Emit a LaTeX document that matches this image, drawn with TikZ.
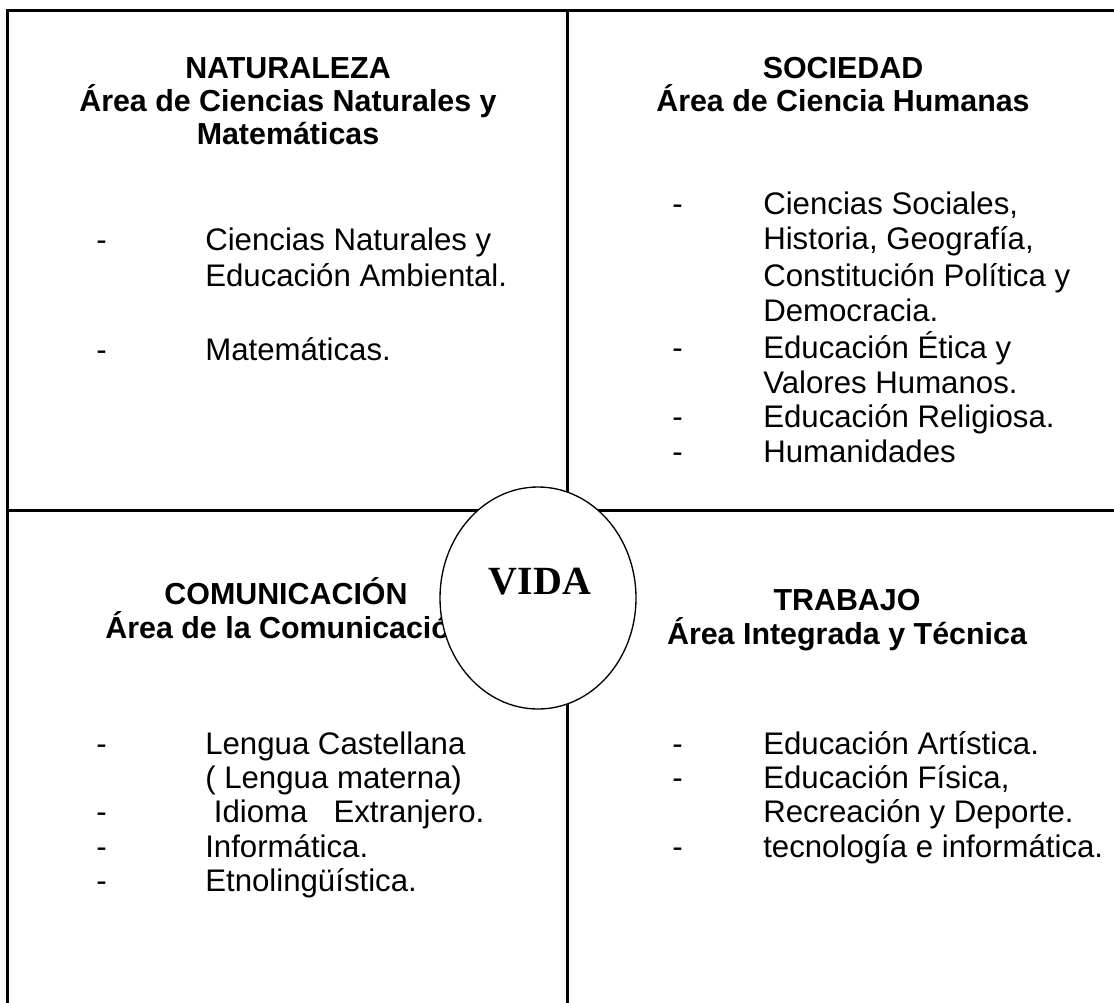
\documentclass[tikz,border=0pt]{standalone}
\usepackage{fontspec}
\setmainfont{Liberation Sans}
\newfontfamily\vidafont{Liberation Serif}
\usepackage{tikz}
\usetikzlibrary{shapes.geometric}

\tikzset{
  gridline/.style={line width=2.25pt},
  head/.style={font=\bfseries\fontsize{22.8}{26}\selectfont, anchor=base, inner sep=0pt},
  item/.style={font=\fontsize{23.4}{27}\selectfont, anchor=base west, inner sep=0pt},
  vida/.style={ellipse, draw, fill=white, line width=1pt, minimum width=147pt, minimum height=166.5pt, inner sep=0pt},
  vidatext/.style={font=\vidafont\bfseries\fontsize{30}{36}\selectfont, inner sep=0pt}
}

\begin{document}
\begin{tikzpicture}[x=0.75pt,y=-0.75pt]
\useasboundingbox (0,0) rectangle (1114,1003);
\draw[gridline] (1114,10) -- (7,10) -- (7,1003);
\draw[gridline] (567,10) -- (567,1003);
\draw[gridline] (7,510) -- (1114,510);

% naturaleza
\node[head] (nat-a) at (288,78) {NATURALEZA};
\node[head] (nat-b) at (288,111) {Área de Ciencias Naturales y};
\node[head] (nat-c) at (288,144) {Matemáticas};
\node[item] (nat-d1) at (96,250) {-};
\node[item] (nat-d2) at (96,360) {-};
\node[item] (nat-1) at (205,250) {Ciencias Naturales y};
\node[item] (nat-2) at (205,286) {Educación Ambiental.};
\node[item] (nat-3) at (205,360) {Matemáticas.};

% sociedad
\node[head] (soc-a) at (843,78) {SOCIEDAD};
\node[head] (soc-b) at (843,111) {Área de Ciencia Humanas};
\node[item] (soc-d1) at (672,214) {-};
\node[item] (soc-d2) at (672,358) {-};
\node[item] (soc-d3) at (672,427) {-};
\node[item] (soc-d4) at (672,462) {-};
\node[item] (soc-1) at (763,214) {Ciencias Sociales,};
\node[item] (soc-2) at (763,249) {Historia, Geografía,};
\node[item] (soc-3) at (763,286) {Constitución Política y};
\node[item] (soc-4) at (763,321) {Democracia.};
\node[item] (soc-5) at (763,358) {Educación Ética y};
\node[item] (soc-6) at (763,393) {Valores Humanos.};
\node[item] (soc-7) at (763,427) {Educación Religiosa.};
\node[item] (soc-8) at (763,462) {Humanidades};

% comunicacion
\node[head] (com-a) at (286,604) {COMUNICACIÓN};
\node[head] (com-b) at (287,638) {Área de la Comunicación};
\node[item] (com-d1) at (96,754) {-};
\node[item] (com-d2) at (96,822) {-};
\node[item] (com-d3) at (96,857) {-};
\node[item] (com-d4) at (96,891) {-};
\node[item] (com-1) at (205,754) {Lengua Castellana};
\node[item] (com-2) at (205,788) {( Lengua materna)};
\node[item] (com-3) at (205,822) {\ Idioma\ \ \ Extranjero.};
\node[item] (com-4) at (205,857) {Informática.};
\node[item] (com-5) at (205,891) {Etnolingüística.};

% trabajo
\node[head] (tra-a) at (847,610) {TRABAJO};
\node[head] (tra-b) at (847,644) {Área Integrada y Técnica};
\node[item] (tra-d1) at (672,754) {-};
\node[item] (tra-d2) at (672,788) {-};
\node[item] (tra-d3) at (672,857) {-};
\node[item] (tra-1) at (763,754) {Educación Artística.};
\node[item] (tra-2) at (763,788) {Educación Física,};
\node[item] (tra-3) at (763,822) {Recreación y Deporte.};
\node[item] (tra-4) at (763,857) {tecnología e informática.};

\node[vida] (vida) at (538,598) {};
\node[vidatext] (vida-t) at (540,582) {VIDA};
\end{tikzpicture}
\end{document}
